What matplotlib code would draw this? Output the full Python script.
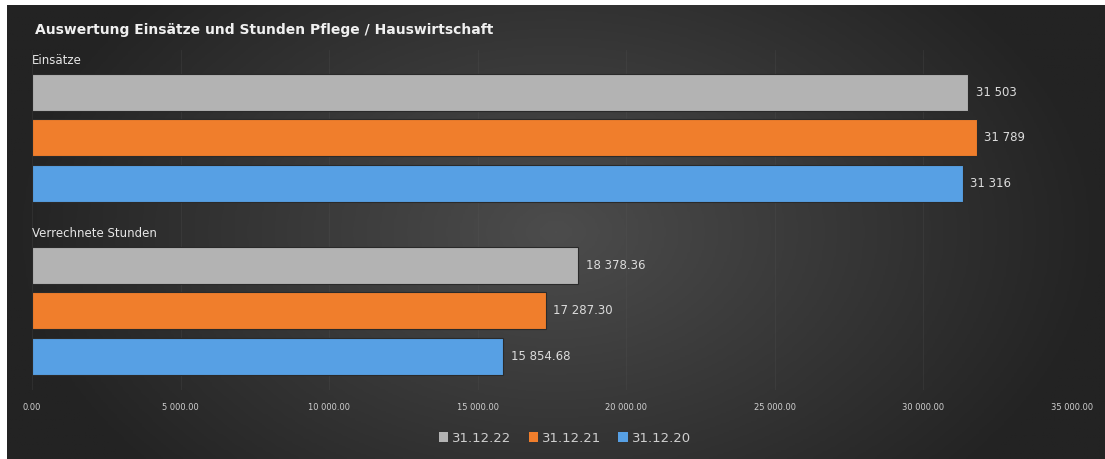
import matplotlib.pyplot as plt
import numpy as np
from matplotlib.patches import Patch

groups = ["Einsätze", "Verrechnete Stunden"]
series = ["31.12.22", "31.12.21", "31.12.20"]
values = {
    "31.12.22": [31503, 18378.36],
    "31.12.21": [31789, 17287.30],
    "31.12.20": [31316, 15854.68],
}
colors = {"31.12.22": "#b3b3b3", "31.12.21": "#f07e2c", "31.12.20": "#57a0e4"}
xticks = [0, 5000, 10000, 15000, 20000, 25000, 30000, 35000]

def fmt(v, dec):
    s = f"{v:,.{dec}f}"
    return s.replace(",", " ")

W, H = 1105, 459
fig = plt.figure(figsize=(W / 100, H / 100), dpi=100)
fig.patch.set_facecolor("white")

# background gradient (dark panel with lighter centre)
bg = fig.add_axes([7 / W, 0, 1 - 7 / W, 1 - 5 / H])
xx, yy = np.meshgrid(np.linspace(-1, 1, 400), np.linspace(-1, 1, 200))
r = np.sqrt((xx / 1.0) ** 2 + (yy / 1.6) ** 2)
bgimg = np.clip(1 - r, 0, 1)
bg.imshow(bgimg, cmap=plt.matplotlib.colors.LinearSegmentedColormap.from_list(
    "bg", ["#232323", "#4c4c4c"]), aspect="auto", extent=[0, 1, 0, 1])
bg.set_axis_off()

ax = fig.add_axes([32 / W, 1 - 390 / H, 1040 / W, 340 / H])
ax.patch.set_alpha(0)

slot = 1.0
group_gap = 1.8
bar_h = 0.81
for gi, g in enumerate(groups):
    base = gi * (len(series) - 1 + group_gap)
    for si, s in enumerate(series):
        y = base + si * slot
        v = values[s][gi]
        ax.barh(y, v, height=bar_h, color=colors[s], edgecolor="#2a2a2a",
                linewidth=0.8, zorder=3)
        label = fmt(v, 0) if gi == 0 else fmt(v, 2)
        ax.text(v + 250, y, label, color="#dcdcdc", fontsize=8.5,
                va="center", ha="left", zorder=4)
    ax.text(0, base - 0.56, g, color="#e6e6e6", fontsize=8.5,
            va="bottom", ha="left")

ax.set_xlim(0, 35000)
ax.set_ylim(6.54, -0.93)
ax.set_xticks(xticks)
ax.set_xticklabels([fmt(t, 2) for t in xticks], color="#cfcfcf", fontsize=6)
ax.tick_params(axis="x", length=0, pad=9)
ax.set_yticks([])
for sp in ax.spines.values():
    sp.set_visible(False)
ax.grid(axis="x", color="#5a5a5a", linewidth=0.6, alpha=0.25, zorder=0)

fig.text(35 / W, 1 - 30 / H, "Auswertung Einsätze und Stunden Pflege / Hauswirtschaft",
         color="#f0f0f0", fontsize=10, fontweight="bold", va="center", ha="left")

handles = [Patch(facecolor=colors[s], label=s) for s in series]
leg = fig.legend(handles=handles, loc="center", bbox_to_anchor=(565 / W, 1 - 438 / H),
                 ncol=3, frameon=False, fontsize=9.5, handlelength=0.7,
                 handleheight=0.7, handletextpad=0.3, columnspacing=1.3,
                 labelcolor="#cfcfcf")

fig.savefig("out.png", dpi=100, facecolor="white")
